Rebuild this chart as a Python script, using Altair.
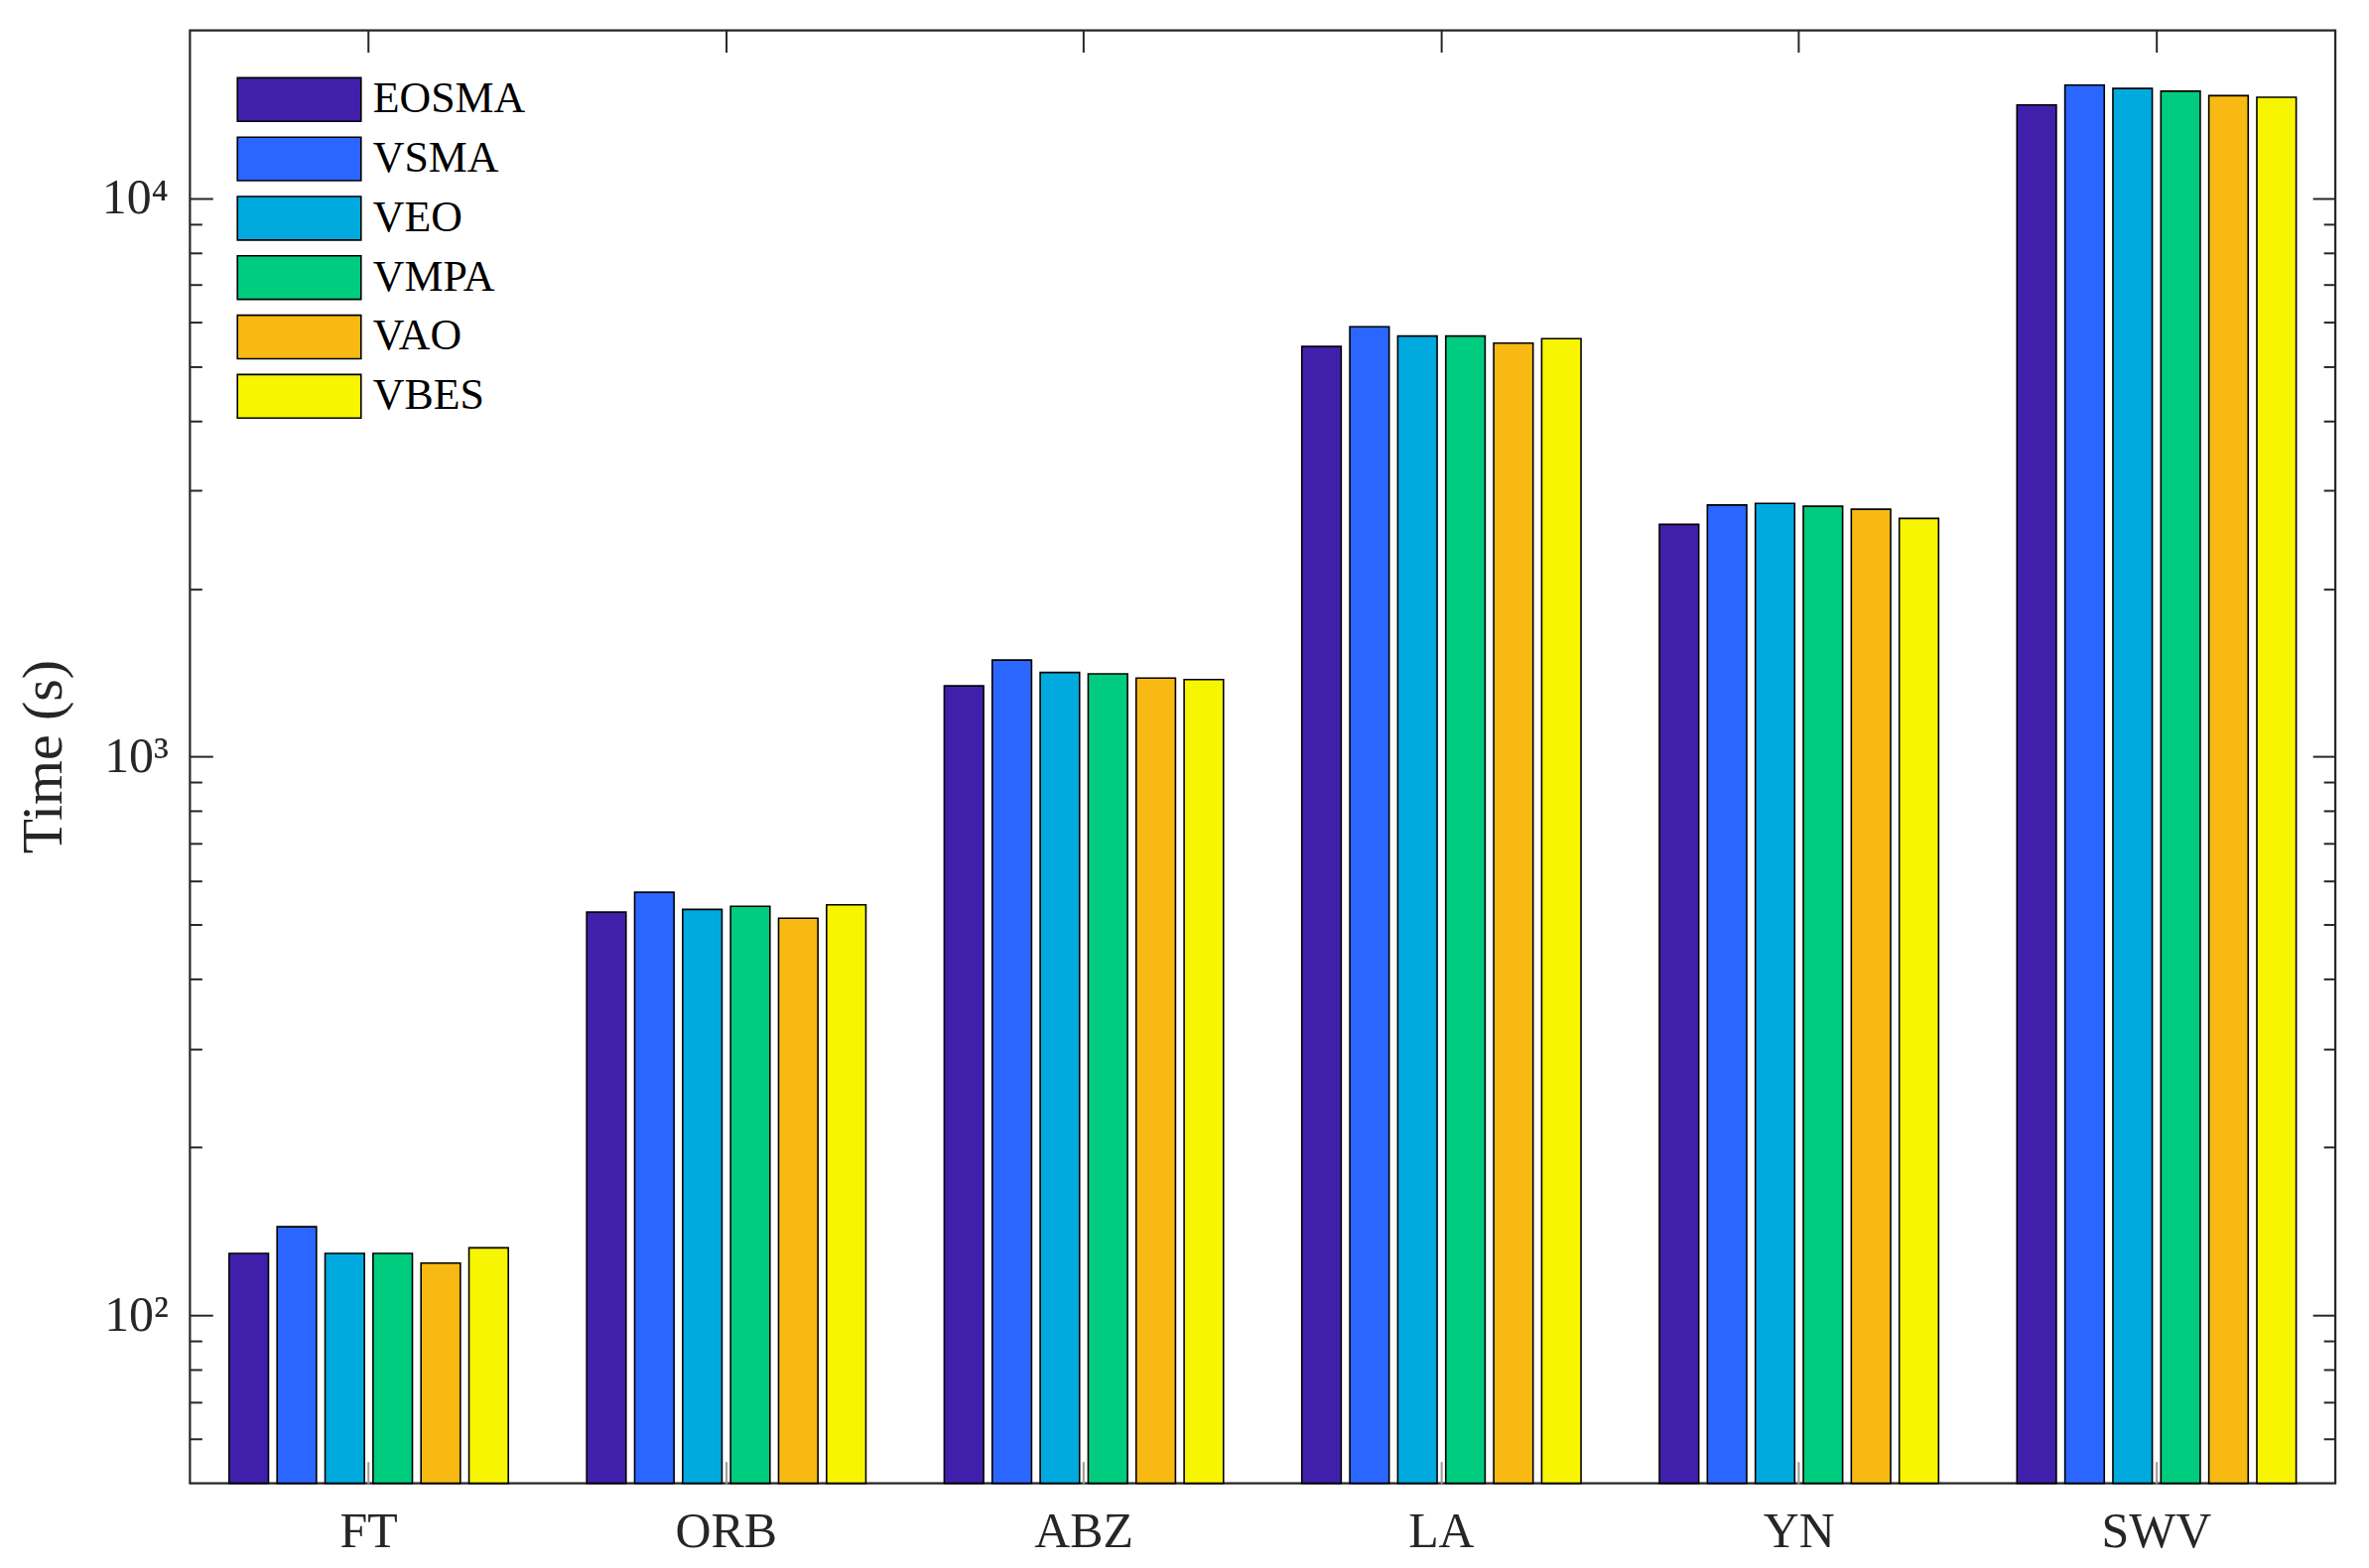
import altair as alt
import pandas as pd

categories = ["FT", "ORB", "ABZ", "LA", "YN", "SWV"]
algorithms = ["EOSMA", "VSMA", "VEO", "VMPA", "VAO", "VBES"]
colors = ["#4020AB", "#2A66FF", "#00AADF", "#00CC80", "#F8BA12", "#F8F500"]

EOSMA = [129, 527, 1340, 5430, 2608, 14700]
VSMA = [144, 572, 1490, 5890, 2825, 15960]
VEO = [129, 533, 1416, 5670, 2843, 15740]
VMPA = [129, 540, 1408, 5670, 2810, 15560]
VAO = [124, 514, 1384, 5505, 2776, 15280]
VBES = [132, 543, 1375, 5610, 2673, 15180]

major_ticks = [100, 1000, 10000]
minor_ticks = [60, 70, 80, 90, 200, 300, 400, 500, 600, 700, 800, 900,
               2000, 3000, 4000, 5000, 6000, 7000, 8000, 9000]
y_domain = [50, 20000]

series = {"EOSMA": EOSMA, "VSMA": VSMA, "VEO": VEO, "VMPA": VMPA, "VAO": VAO, "VBES": VBES}
rows = []
for alg in algorithms:
    for c, v in zip(categories, series[alg]):
        rows.append({"cat": c, "alg": alg, "time": v})
df = pd.DataFrame(rows)

FONT = "Liberation Serif"
FRAME = "#262626"

xscale = alt.Scale(paddingInner=0.195, paddingOuter=0.0975)
xoscale = alt.Scale(paddingInner=0.18, paddingOuter=0.09)
yscale = alt.Scale(type="log", domain=y_domain, nice=False)

label_expr = "datum.value == 100 ? '10²' : datum.value == 1000 ? '10³' : '10⁴'"


def encs(xaxis, yaxis):
    return dict(
        x=alt.X("cat:N", sort=categories, scale=xscale, axis=xaxis, title=None),
        xOffset=alt.XOffset("alg:N", sort=algorithms, scale=xoscale),
        y=alt.Y("time:Q", scale=yscale, axis=yaxis),
        y2=alt.datum(y_domain[0]),
    )


bars = alt.Chart(df).mark_bar(stroke="black", strokeWidth=1.6, opacity=1).encode(
    **encs(
        alt.Axis(orient="bottom", domain=False, tickSize=22, offset=-22, tickColor="#999999",
                 tickWidth=2, labelPadding=24, labelFont=FONT, labelFontSize=50,
                 labelColor="#262626", labelAngle=0, title=None),
        alt.Axis(orient="left", values=major_ticks, domain=False, tickSize=23, offset=-23,
                 tickColor=FRAME, tickWidth=2, labelExpr=label_expr, labelPadding=22,
                 labelFont=FONT, labelFontSize=50, labelColor="#262626", labelBaseline="middle",
                 title="Time (s)", titleFont=FONT, titleFontSize=58, titleFontWeight="normal",
                 titleColor="#262626", titleX=-170, titleY=734, titleAngle=-90,
                 titleBaseline="middle", titleAlign="center", grid=False),
    ),
    color=alt.Color(
        "alg:N", sort=algorithms,
        scale=alt.Scale(domain=algorithms, range=colors),
        legend=alt.Legend(
            title=None, orient="none", legendX=87.5, legendY=47,
            symbolType="M-2.84,-1H2.84V1H-2.84Z", symbolSize=1936,
            symbolStrokeColor="black", symbolStrokeWidth=1.6, symbolOpacity=1,
            labelFont=FONT, labelFontSize=44, labelColor="black", labelOffset=51.5,
            rowPadding=8, padding=0,
        ),
    ),
)

left_minor = alt.Chart(df).mark_bar(opacity=0).encode(
    **encs(None, alt.Axis(orient="left", values=minor_ticks, domain=False, tickSize=12, offset=-12,
                          tickColor=FRAME, tickWidth=2, labels=False, title=None, grid=False))
)
right_major = alt.Chart(df).mark_bar(opacity=0).encode(
    **encs(None, alt.Axis(orient="right", values=major_ticks, domain=False, tickSize=23, offset=-23,
                          tickColor=FRAME, tickWidth=2, labels=False, title=None, grid=False))
)
right_minor = alt.Chart(df).mark_bar(opacity=0).encode(
    **encs(None, alt.Axis(orient="right", values=minor_ticks, domain=False, tickSize=12, offset=-12,
                          tickColor=FRAME, tickWidth=2, labels=False, title=None, grid=False))
)
top_ticks = alt.Chart(df).mark_bar(opacity=0).encode(
    **encs(alt.Axis(orient="top", domain=False, tickSize=22, offset=-22, tickColor=FRAME,
                    tickWidth=2, labels=False, title=None), None)
)

chart = alt.layer(bars, left_minor, right_major, right_minor, top_ticks).resolve_axis(
    x="independent", y="independent"
).properties(
    width=2169, height=1469,
    autosize=alt.AutoSizeParams(type="none"),
    padding={"left": 184, "top": 20, "right": 26, "bottom": 83},
    background="white",
).configure_view(
    stroke=FRAME, strokeWidth=2.2
)

chart.save("out.html", embed_options={"renderer": "svg", "actions": False})
